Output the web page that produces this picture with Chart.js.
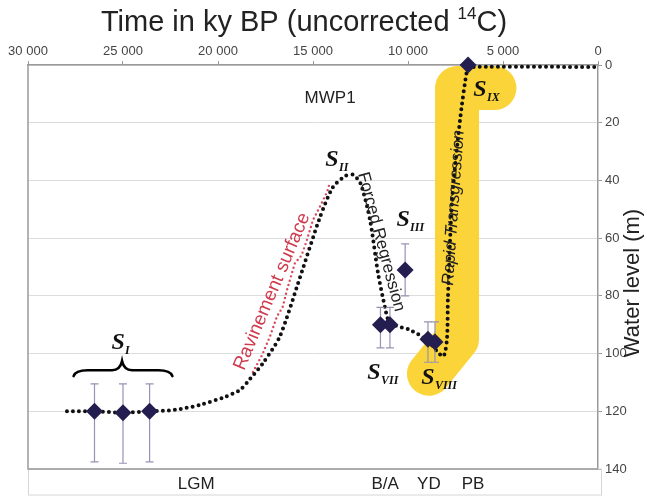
<!DOCTYPE html>
<html>
<head>
<meta charset="utf-8">
<script src="https://cdn.jsdelivr.net/npm/chart.js@4"></script>
<style>
  html, body { margin: 0; padding: 0; background: #fff; }
  #wrap { width: 647px; height: 497px; }
</style>
</head>
<body>
<div id="wrap"><canvas id="c"></canvas></div>
<script>
// ── datos ──
const xTicks = [30000, 25000, 20000, 15000, 10000, 5000, 0];
const yTicks = [0, 20, 40, 60, 80, 100, 120, 140];

// muestras (diamantes) con barras de error
const sampleTime  = [26500, 25000, 23600, 11450, 10950, 10150, 8950, 8580, 6840];
const sampleDepth = [120, 120.5, 120, 90, 90, 71, 95, 96, 0];
const errTop      = [110.5, 110.5, 110.5, 84, 84, 62, 89, 89, null];
const errBottom   = [137.5, 138, 137.5, 98, 98, 80, 103, 103, null];

// curva punteada negra
const curveTime  = [27950, 26500, 25000, 23600, 22260, 20950, 19630, 18840, 18470, 17600, 16740, 15680,
                    14630, 13950, 13300, 12900, 12500, 12000, 11580, 11210, 10950, 9900, 9000, 8160, 7950,
                    7900, 7680, 7260, 6890, 6740, 0];
const curveDepth = [120, 120, 120.5, 120, 119.5, 117.8, 115, 112.6, 110, 103, 94, 73.5,
                    52.7, 42.3, 38.5, 38, 41, 53.7, 72, 84, 89.4, 91.8, 95.3, 101, 95,
                    81, 46.8, 19, 1.7, 0.7, 0.7];

// superficie de ravinamiento (roja)
const ravTime  = [18160, 17680, 17260, 16890, 16600, 16370, 15950, 15600, 15320, 15000, 14630, 14260, 14100];
const ravDepth = [106.4, 100.5, 94, 87, 84, 78, 68.6, 66, 60.6, 53.7, 49, 44, 40.5];

// resaltado amarillo
const hlTime  = [5450, 7420, 7420, 8900];
const hlDepth = [8, 8, 95, 107];

// etiquetas S
const sSubs  = ['I', 'II', 'III', 'VII', 'VIII', 'IX'];
const sTime  = [25260, 14000, 10260, 11790, 8950, 6210];
const sDepth = [96.3, 32.9, 53.7, 106.7, 108.5, 8.7];

// periodos (franja inferior)
const periodNames = ['LGM', 'B/A', 'YD', 'PB'];
const periodTime  = [21150, 11200, 8900, 6580];

const FONT = '"Liberation Sans", Arial, sans-serif';
const SERIF = '"Liberation Serif", "Times New Roman", serif';

const pts = (xs, ys) => xs.map((x, i) => ({ x: x, y: ys[i] }));

const decor = {
    id: 'decor',
    beforeDatasetsDraw(chart) {
        const { ctx, chartArea: a } = chart;
        ctx.save();
        // franja inferior
        ctx.strokeStyle = '#d6d6d6';
        ctx.lineWidth = 1;
        ctx.strokeRect(a.left + 0.5, a.bottom, a.right - a.left + 3, 26);
        // marco izquierdo / inferior
        ctx.strokeStyle = '#9a9a9a';
        ctx.lineWidth = 1.5;
        ctx.beginPath();
        ctx.moveTo(a.left, a.top);
        ctx.lineTo(a.left, a.bottom);
        ctx.lineTo(a.right, a.bottom);
        ctx.stroke();
        ctx.restore();
    },
    beforeDatasetDraw(chart, args) {
        if (args.index !== 3) return;
        const { ctx } = chart;
        const xs = chart.scales.x, ys = chart.scales.y;
        ctx.save();
        ctx.strokeStyle = '#9694b4';
        ctx.lineWidth = 1.2;
        sampleTime.forEach((t, i) => {
            if (errTop[i] == null) return;
            const x = xs.getPixelForValue(t);
            const y1 = ys.getPixelForValue(errTop[i]);
            const y2 = ys.getPixelForValue(errBottom[i]);
            ctx.beginPath();
            ctx.moveTo(x, y1); ctx.lineTo(x, y2);
            ctx.moveTo(x - 4, y1); ctx.lineTo(x + 4, y1);
            ctx.moveTo(x - 4, y2); ctx.lineTo(x + 4, y2);
            ctx.stroke();
        });
        ctx.restore();
    },
    afterDatasetsDraw(chart) {
        const { ctx, chartArea: a } = chart;
        const xs = chart.scales.x, ys = chart.scales.y;
        const px = v => xs.getPixelForValue(v);
        const py = v => ys.getPixelForValue(v);
        ctx.save();

        // títulos
        ctx.fillStyle = '#222';
        ctx.textBaseline = 'alphabetic';
        const t1 = 'Time in ky BP (uncorrected ', t3 = 'C)';
        ctx.font = '29px ' + FONT;
        const w1 = ctx.measureText(t1).width, w3 = ctx.measureText(t3).width;
        ctx.font = '17px ' + FONT;
        const w2 = ctx.measureText('14').width;
        let x0 = 304 - (w1 + w2 + w3) / 2;
        ctx.textAlign = 'left';
        ctx.font = '29px ' + FONT;
        ctx.fillText(t1, x0, 31);
        ctx.font = '17px ' + FONT;
        ctx.fillText('14', x0 + w1, 19);
        ctx.font = '29px ' + FONT;
        ctx.fillText(t3, x0 + w1 + w2, 31);

        ctx.save();
        ctx.translate(633, 283);
        ctx.rotate(-Math.PI / 2);
        ctx.textAlign = 'center';
        ctx.textBaseline = 'middle';
        ctx.font = '22px ' + FONT;
        ctx.fillText('Water level (m)', 0, 0);
        ctx.restore();

        // periodos
        ctx.font = '17px ' + FONT;
        ctx.textAlign = 'center';
        ctx.textBaseline = 'middle';
        periodNames.forEach((n, i) => ctx.fillText(n, px(periodTime[i]), a.bottom + 15));

        // MWP1
        ctx.font = '17px ' + FONT;
        ctx.fillText('MWP1', px(14100), py(11.6));

        // llave sobre S_I
        const bl = px(27600), br = px(22400), bm = px(25050);
        const yTip = py(102.6), yMid = py(105.8), yEnd = py(107.8);
        ctx.strokeStyle = '#000';
        ctx.lineWidth = 2.6;
        ctx.lineCap = 'round';
        ctx.beginPath();
        ctx.moveTo(bl, yEnd);
        ctx.quadraticCurveTo(bl + 2, yMid, bl + 14, yMid);
        ctx.lineTo(bm - 10, yMid);
        ctx.quadraticCurveTo(bm - 2, yMid, bm, yTip);
        ctx.quadraticCurveTo(bm + 2, yMid, bm + 10, yMid);
        ctx.lineTo(br - 14, yMid);
        ctx.quadraticCurveTo(br - 2, yMid, br, yEnd);
        ctx.stroke();

        // etiquetas S
        sSubs.forEach((s, i) => {
            const x = px(sTime[i]), y = py(sDepth[i]);
            ctx.fillStyle = '#111';
            ctx.textAlign = 'center';
            ctx.textBaseline = 'middle';
            ctx.font = 'italic bold 24px ' + SERIF;
            ctx.fillText('S', x, y);
            ctx.textAlign = 'left';
            ctx.font = 'italic bold 12px ' + SERIF;
            ctx.fillText(s, x + 7, y + 8);
        });

        // textos girados
        const rotText = (txt, t, d, ang, font, color) => {
            ctx.save();
            ctx.translate(px(t), py(d));
            ctx.rotate(ang * Math.PI / 180);
            ctx.font = font;
            ctx.fillStyle = color;
            ctx.textAlign = 'center';
            ctx.textBaseline = 'middle';
            ctx.fillText(txt, 0, 0);
            ctx.restore();
        };
        rotText('Ravinement surface', 17150, 78.5, -67, '19px ' + FONT, '#d03a4c');
        rotText('Forced Regression', 11420, 61.3, 75, '17px ' + FONT, '#222');
        rotText('Rapid Transgression', 7600, 49.5, -86, 'italic 17px ' + FONT, '#222');

        ctx.restore();
    }
};

new Chart(document.getElementById('c'), {
    type: 'scatter',
    data: {
        datasets: [
            {
                data: pts(hlTime, hlDepth),
                showLine: true,
                borderColor: '#fbd43a',
                borderWidth: 44,
                borderCapStyle: 'round',
                borderJoinStyle: 'round',
                pointRadius: 0,
                clip: false,
                order: 5
            },
            {
                data: pts(ravTime, ravDepth),
                showLine: true,
                borderColor: '#d9485a',
                borderWidth: 2.4,
                borderDash: [0, 4.5],
                borderCapStyle: 'round',
                pointRadius: 0,
                clip: false,
                order: 4
            },
            {
                data: pts(curveTime, curveDepth),
                showLine: true,
                borderColor: '#111',
                borderWidth: 4,
                borderDash: [0, 6],
                borderCapStyle: 'round',
                tension: 0.25,
                pointRadius: 0,
                clip: false,
                order: 3
            },
            {
                data: pts(sampleTime, sampleDepth),
                pointStyle: 'rectRot',
                pointRadius: 8.5,
                backgroundColor: '#241e50',
                borderColor: '#241e50',
                borderWidth: 0,
                clip: false,
                order: 1
            }
        ]
    },
    options: {
        responsive: true,
        maintainAspectRatio: false,
        animation: false,
        layout: { padding: { left: 28, right: 0, top: 0, bottom: 28 } },
        plugins: { legend: { display: false }, tooltip: { enabled: false } },
        scales: {
            x: {
                type: 'linear',
                position: 'top',
                reverse: true,
                min: 0, max: 30000,
                afterFit: s => { s.height = 65; },
                afterBuildTicks: s => { s.ticks = xTicks.map(v => ({ value: v })); },
                ticks: {
                    color: '#444',
                    font: { family: FONT, size: 13 },
                    padding: 2,
                    maxRotation: 0,
                    callback: v => v === 0 ? '0' : `${v / 1000} 000`
                },
                grid: { drawOnChartArea: false, color: '#9a9a9a', tickLength: 4 },
                border: { color: '#9a9a9a', width: 1.5 }
            },
            y: {
                type: 'linear',
                position: 'right',
                reverse: true,
                min: 0, max: 140,
                afterFit: s => { s.width = 49; },
                afterBuildTicks: s => { s.ticks = yTicks.map(v => ({ value: v })); },
                ticks: {
                    color: '#444',
                    font: { family: FONT, size: 13 },
                    padding: 3
                },
                grid: { color: '#dcdcdc', tickColor: '#9a9a9a', tickLength: 4 },
                border: { color: '#9a9a9a', width: 1.5 }
            }
        }
    },
    plugins: [decor]
});
</script>
</body>
</html>
